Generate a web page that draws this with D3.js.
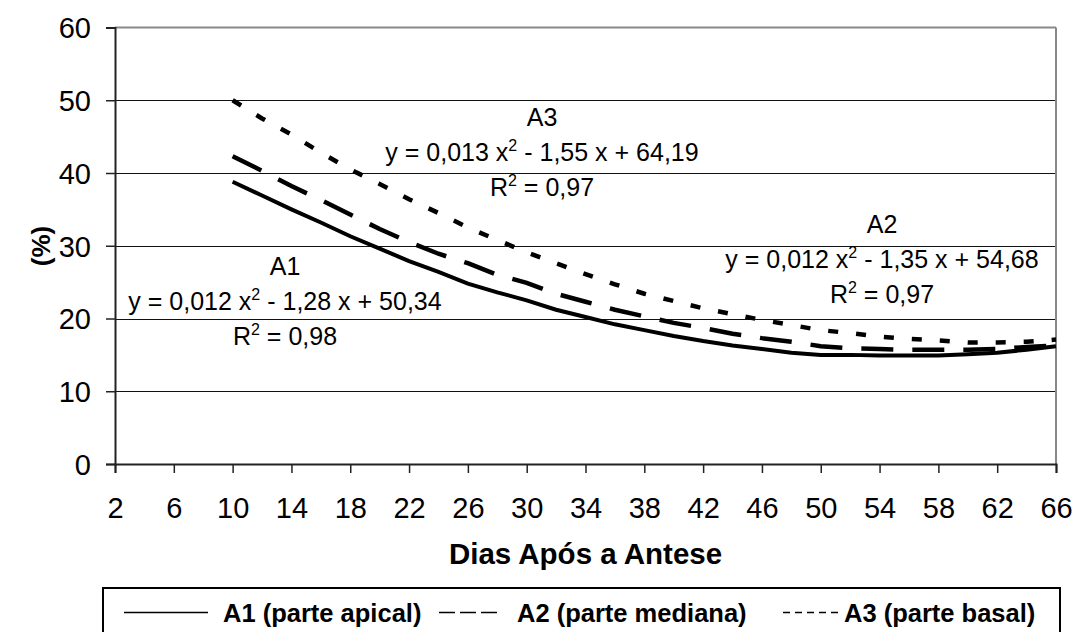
<!DOCTYPE html>
<html><head><meta charset="utf-8">
<script src="https://cdn.jsdelivr.net/npm/d3@7"></script>
<style>body{margin:0;background:#fff}svg{display:block;font-family:"Liberation Sans",Arial,sans-serif}</style>
</head><body><svg id="c" width="1076" height="632"></svg>
<script>
const days = [10,12,14,16,18,20,22,24,26,28,30,32,34,36,38,40,42,44,46,48,50,52,54,56,58,60,62,64,66];
const a1 = [38.8,36.9,35.0,33.2,31.3,29.6,27.9,26.4,24.8,23.6,22.5,21.2,20.2,19.2,18.4,17.6,16.9,16.3,15.8,15.3,15.0,15.0,14.9,14.9,14.9,15.1,15.3,15.7,16.2];
const a2 = [42.3,40.3,38.2,36.3,34.3,32.3,30.5,28.9,27.6,26.0,24.9,23.4,22.3,21.2,20.3,19.4,18.7,17.9,17.3,16.8,16.2,15.9,15.8,15.7,15.7,15.7,15.8,16.1,16.3];
const a3 = [50.0,47.5,45.3,42.8,40.5,38.5,36.4,34.5,32.5,30.8,29.1,27.6,26.1,24.7,23.4,22.4,21.4,20.6,19.8,19.1,18.4,18.0,17.5,17.2,17.0,16.7,16.7,16.8,17.1];
const xTicks = [2,6,10,14,18,22,26,30,34,38,42,46,50,54,58,62,66];
const yTicks = [0,10,20,30,40,50,60];
const seriesNames = ["A1 (parte apical)","A2 (parte mediana)","A3 (parte basal)"];
const xTitle = "Dias Após a Antese";
const yTitle = "(%)";
const eqs = [
  {name:"A1", eq:["y = 0,012 x","2"," - 1,28 x + 50,34"], r2:"0,98"},
  {name:"A2", eq:["y = 0,012 x","2"," - 1,35 x + 54,68"], r2:"0,97"},
  {name:"A3", eq:["y = 0,013 x","2"," - 1,55 x + 64,19"], r2:"0,97"}
];

const svg = d3.select("#c");
const L = 115, R = 1056, T = 27.5, B = 464;
const x = d3.scaleLinear().domain([2,66]).range([L,R]);
const y = d3.scaleLinear().domain([0,60]).range([B,T]);

// gridlines
svg.append("g").selectAll("line").data(yTicks.filter(d=>d>0&&d<60)).join("line")
  .attr("x1",L).attr("x2",R).attr("y1",d=>Math.round(y(d))+0.5).attr("y2",d=>Math.round(y(d))+0.5)
  .attr("stroke","#111").attr("stroke-width",1.2);
// top & right border
svg.append("line").attr("x1",L).attr("x2",R).attr("y1",y(60)).attr("y2",y(60)).attr("stroke","#888").attr("stroke-width",2);
svg.append("line").attr("x1",R).attr("x2",R).attr("y1",y(60)).attr("y2",B).attr("stroke","#888").attr("stroke-width",2);

// axes
const yAx = svg.append("g").attr("transform",`translate(${L},0)`)
  .call(d3.axisLeft(y).tickValues(yTicks).tickSize(9).tickPadding(15));
const xAx = svg.append("g").attr("transform",`translate(0,${B})`)
  .call(d3.axisBottom(x).tickValues(xTicks).tickSize(9).tickPadding(24));
[yAx,xAx].forEach(g=>{
  g.select(".domain").attr("stroke","#222").attr("stroke-width",2);
  g.selectAll(".tick line").attr("stroke","#222").attr("stroke-width",1.5);
  g.selectAll("text").attr("font-size",29).attr("fill","#000").attr("font-family","Liberation Sans, Arial, sans-serif");
});
yAx.selectAll("text").attr("dy","0.36em");

// lines
const line = d3.line().x((d,i)=>x(days[i])).y(d=>y(d));
const styles = [{dash:null,w:4},{dash:"32,19",w:4.5},{dash:"10,18",w:4.5}];
[a1,a2,a3].forEach((s,i)=>{
  svg.append("path").datum(s).attr("d",line).attr("fill","none")
    .attr("stroke","#000").attr("stroke-width",styles[i].w)
    .attr("stroke-dasharray",styles[i].dash);
});

// annotations
const annPos = [{cx:285,by:275},{cx:882,by:233},{cx:542,by:126}];
eqs.forEach((e,i)=>{
  const p = annPos[i];
  const g = svg.append("g").attr("font-size",25).attr("text-anchor","middle").attr("fill","#000");
  g.append("text").attr("x",p.cx).attr("y",p.by).text(e.name);
  const t = g.append("text").attr("x",p.cx).attr("y",p.by+35);
  t.append("tspan").text(e.eq[0]);
  t.append("tspan").attr("font-size",16).attr("dy",-10).text(e.eq[1]);
  t.append("tspan").attr("dy",10).text(e.eq[2]);
  const r = g.append("text").attr("x",p.cx).attr("y",p.by+70);
  r.append("tspan").text("R");
  r.append("tspan").attr("font-size",16).attr("dy",-10).text("2");
  r.append("tspan").attr("dy",10).text(" = "+e.r2);
});

// axis titles
svg.append("text").attr("x",(L+R)/2).attr("y",564).attr("text-anchor","middle")
  .attr("font-size",29.5).attr("font-weight","bold").text(xTitle);
svg.append("text").attr("transform","translate(50,246) rotate(-90)").attr("text-anchor","middle")
  .attr("font-size",26).attr("font-weight","bold").text(yTitle);

// legend
svg.append("rect").attr("x",103).attr("y",588).attr("width",957).attr("height",60)
  .attr("fill","none").attr("stroke","#000").attr("stroke-width",2);
const leg = [{x1:124,x2:208,tx:223,dash:null},{x1:439,x2:500,tx:517,dash:"16,5"},{x1:783,x2:840,tx:844,dash:"7,5"}];
leg.forEach((l,i)=>{
  svg.append("line").attr("x1",l.x1).attr("x2",l.x2).attr("y1",612.5).attr("y2",612.5)
    .attr("stroke","#000").attr("stroke-width",1.5).attr("stroke-dasharray",l.dash);
  svg.append("text").attr("x",l.tx).attr("y",622).attr("font-size",25.5).attr("font-weight","bold").text(seriesNames[i]);
});
</script></body></html>
